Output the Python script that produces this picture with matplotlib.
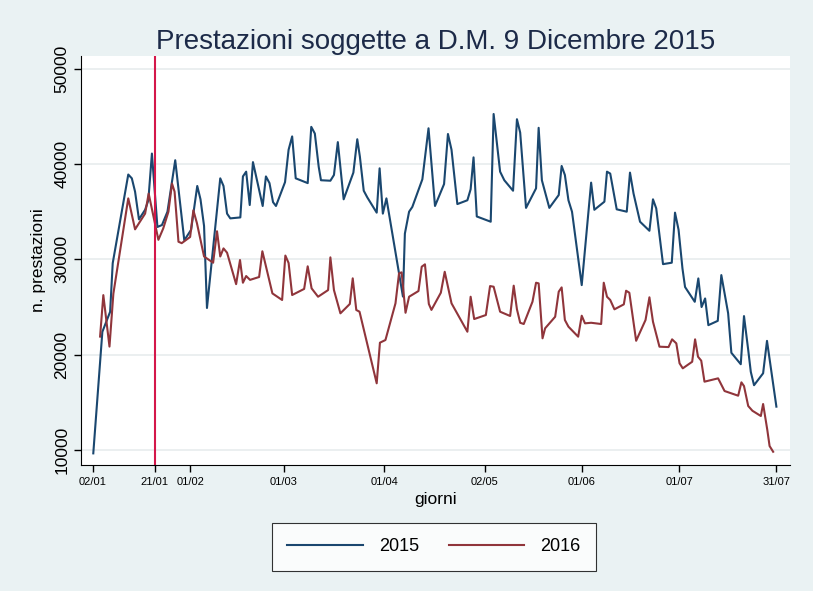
import matplotlib
matplotlib.use('Agg')
import matplotlib.pyplot as plt
import numpy as np

# days of the year (2 = 02/01 ... 213 = 31/07) and number of services
days_2015 = [2.1, 4.9, 7.3, 8.1, 12.9, 14.0, 15.0, 16.2, 18.1, 19.1, 20.2, 21.9, 23.3, 25.0,
             27.4, 28.1, 30.2, 32.3, 34.2, 35.2, 36.3, 37.2, 41.3, 42.3, 43.4, 44.4, 47.5,
             48.3, 49.3, 50.4, 51.4, 54.4, 55.4, 56.5, 57.6, 58.5, 61.3, 62.4, 63.5, 64.6,
             68.3, 69.4, 70.5, 71.7, 72.4, 75.3, 76.4, 77.6, 79.4, 82.4, 83.6, 84.4, 85.6,
             86.7, 89.6, 90.5, 91.5, 92.6, 97.7, 98.3, 99.6, 100.6, 103.7, 105.6, 107.6,
             110.4, 111.6, 112.7, 114.5, 117.6, 118.6, 119.5, 120.5, 124.8, 125.7, 127.7,
             129.0, 131.7, 132.9, 133.9, 135.7, 138.8, 139.6, 140.6, 142.9, 145.8, 146.7,
             147.7, 148.8, 149.9, 152.9, 155.8, 156.8, 159.9, 160.7, 161.7, 163.7, 166.8,
             167.8, 168.9, 170.9, 173.8, 174.9, 175.9, 178.0, 180.7, 181.7, 182.8, 184.0,
             184.8, 187.8, 188.9, 189.9, 191.0, 192.0, 194.9, 196.0, 198.1, 199.1, 202.0,
             203.0, 204.3, 205.1, 206.1, 208.9, 210.1, 213.0]
vals_2015 = [9650, 22400, 24500, 29600, 38900, 38500, 37100, 34200, 35200, 36200, 41100, 33400,
             33600, 35000, 40400, 38300, 32000, 33100, 37700, 36300, 33500, 24900, 38500, 37700,
             34800, 34300, 34400, 38700, 39200, 35700, 40200, 35600, 38700, 38000, 36000, 35600,
             38100, 41500, 42900, 38500, 38000, 43900, 43200, 39700, 38300, 38250, 38850, 42300,
             36300, 39100, 42600, 40800, 37200, 36500, 34900, 39550, 34800, 36400, 26100, 32700,
             35000, 35500, 38400, 43750, 35600, 37900, 43150, 41500, 35800, 36200, 37350, 40700,
             34500, 33950, 45250, 39200, 38300, 37200, 44700, 43300, 35400, 37450, 43800, 38300,
             35400, 36750, 39800, 38850, 36200, 35000, 27300, 38050, 35200, 36050, 39200, 39000,
             35250, 35000, 39100, 36900, 33950, 33000, 36300, 35350, 29500, 29650, 34900, 33100,
             29050, 27100, 25550, 28000, 25000, 25900, 23100, 23550, 28350, 24350, 20200, 19000,
             24050, 20500, 18200, 16800, 18050, 21450, 14550]

days_2016 = [4.2, 5.2, 7.1, 8.3, 12.9, 15.0, 16.5, 18.1, 19.2, 22.2, 23.7, 25.3, 26.4, 27.2,
             28.4, 29.4, 32.0, 33.0, 34.1, 36.3, 39.1, 40.3, 41.3, 42.3, 43.4, 46.2, 47.4,
             48.3, 49.3, 50.5, 53.3, 54.3, 57.4, 60.4, 61.4, 62.4, 63.5, 67.2, 68.3, 69.5,
             71.5, 74.6, 75.3, 76.4, 78.4, 81.3, 82.2, 83.3, 84.3, 89.6, 90.6, 92.3, 95.4,
             96.5, 97.3, 98.5, 99.6, 102.5, 103.5, 104.5, 105.7, 106.5, 109.4, 110.6, 112.7,
             117.6, 118.6, 119.7, 123.3, 124.6, 125.7, 127.7, 130.8, 131.9, 132.9, 133.9,
             135.0, 137.7, 138.8, 139.6, 140.8, 141.6, 144.7, 145.8, 146.7, 147.7, 148.8,
             151.8, 152.9, 153.9, 155.8, 158.9, 159.7, 160.7, 161.7, 163.0, 165.9, 166.6,
             167.6, 169.7, 172.6, 173.8, 174.9, 176.9, 179.7, 180.8, 182.1, 183.1, 184.1,
             187.0, 187.9, 188.8, 189.8, 190.8, 195.0, 197.0, 201.2, 202.2, 203.0, 204.3,
             205.6, 208.2, 208.9, 210.2, 210.9, 212.0]
vals_2016 = [21900, 26250, 20850, 26400, 36400, 33150, 33950, 34800, 36900, 32050, 33250, 35000,
             37950, 37100, 31850, 31700, 32350, 35150, 33800, 30300, 29650, 32950, 30300, 31150,
             30700, 27400, 29930, 27550, 28250, 27850, 28150, 30850, 26430, 25740, 30400, 29620,
             26260, 26900, 29270, 26960, 26080, 26780, 30210, 26780, 24340, 25320, 28010, 24690,
             24510, 17000, 21260, 21540, 25390, 28540, 28640, 24400, 26080, 26680, 29230, 29480,
             25320, 24700, 26500, 28700, 25390, 22410, 26080, 23740, 24160, 27200, 27130, 24510,
             24060, 27240, 24760, 23350, 23220, 25560, 27550, 27480, 21720, 22770, 23980, 26610,
             27060, 23640, 22940, 21890, 24090, 23290, 23350, 23220, 27550, 26080, 25740, 24760,
             25280, 26710, 26500, 21460, 23640, 26020, 23460, 20840, 20800, 21610, 21190, 19100,
             18570, 19260, 21610, 19790, 19370, 17170, 17520, 16190, 15700, 17100, 16710, 14620,
             14120, 13570, 14830, 12100, 10420, 9820]

tick_days = [2, 21, 32, 61, 92, 123, 153, 183, 213]
tick_labels = ['02/01', '21/01', '01/02', '01/03', '01/04', '02/05', '01/06', '01/07', '31/07']
y_ticks = [10000, 20000, 30000, 40000, 50000]
decree_day = 21

plt.rcParams['font.family'] = ['Liberation Sans', 'DejaVu Sans']

bg = '#eaf2f3'
fig = plt.figure(figsize=(8.13, 5.91), dpi=100, facecolor=bg)
ax = fig.add_axes([0.0996, 0.2132, 0.8721, 0.692])
ax.set_facecolor('white')

ax.plot(days_2015, vals_2015, color='#1a476f', lw=1.5, label='2015')
ax.plot(days_2016, vals_2016, color='#90353b', lw=1.5, label='2016')
ax.axvline(decree_day, color='#d4174a', lw=1.5)

ax.set_xlim(-1.7, 217.2)
ax.set_ylim(8430, 51330)
ax.set_xticks(tick_days)
ax.set_xticklabels(tick_labels, fontsize=8)
ax.set_yticks(y_ticks)
ax.set_yticklabels([str(v) for v in y_ticks], fontsize=12.5, rotation=90, va='center')
ax.grid(axis='y', color='#e8eced', lw=1.2)
ax.set_axisbelow(True)

for s in ['top', 'right']:
    ax.spines[s].set_visible(False)
ax.tick_params(direction='out', length=5, width=1, color='black')

ax.set_title('Prestazioni soggette a D.M. 9 Dicembre 2015', fontsize=20, color='#1c2a48', pad=5)
ax.set_ylabel('n. prestazioni', fontsize=12.5, labelpad=6)
ax.set_xlabel('giorni', fontsize=12.5, labelpad=4)

leg = fig.legend(loc='center', bbox_to_anchor=(0.534, 0.075), ncol=2, fontsize=13,
                 handlelength=4.2, columnspacing=1.6, handletextpad=0.9,
                 frameon=True, fancybox=False, edgecolor='black', borderpad=0.85)
leg.get_frame().set_linewidth(0.8)

fig.savefig('out.png', dpi=100, facecolor=bg)
